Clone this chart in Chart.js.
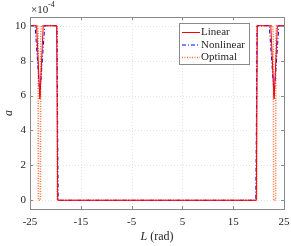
<!DOCTYPE html>
<html>
<head>
<meta charset="utf-8">
<script src="https://cdn.jsdelivr.net/npm/chart.js@4"></script>
<style>
  html, body { margin: 0; padding: 0; background: #fff; }
  #wrap { width: 291px; height: 246px; position: relative; }
</style>
</head>
<body>
<div id="wrap"><canvas id="chart"></canvas></div>
<script>
// values in units of 1e-4
const linearL = [-25, -23.7, -23.05, -22.4, -19.75, -19.55, 19.55, 19.75, 22.4, 23.05, 23.7, 25];
const linearA = [10, 10, 5.8, 10, 10, 0, 0, 10, 10, 5.8, 10, 10];

const nonlinearL = [-25, -24.0, -23.05, -22.1, -19.7, -19.45, 19.45, 19.7, 22.1, 23.05, 24.0, 25];
const nonlinearA = [10, 10, 6.0, 10, 10, 0, 0, 10, 10, 6.0, 10, 10];

const optimalL = [-25, -23.5, -23.4, -23.35, -22.95, -22.9, -22.8, -19.65, -19.65, 19.65, 19.65, 22.8, 22.9, 22.95, 23.35, 23.4, 23.5, 25];
const optimalA = [10, 10, 9.4, 0, 0, 9.4, 10, 10, 0, 0, 10, 10, 9.4, 0, 0, 9.4, 10, 10];

const xTicks = [-25, -15, -5, 5, 15, 25];
const yTicks = [0, 2, 4, 6, 8, 10];

const FONT = '"Liberation Serif", "Times New Roman", serif';
const TEXT = '#262626';
const AXIS = '#8a8a8a';

const toPoints = (xs, ys) => xs.map((x, i) => ({ x, y: ys[i] }));

const series = [
  { label: 'Linear', data: toPoints(linearL, linearA), color: '#ff0000', dash: [], width: 1 },
  { label: 'Nonlinear', data: toPoints(nonlinearL, nonlinearA), color: '#0000ff', dash: [4, 2, 1, 2], width: 1 },
  { label: 'Optimal', data: toPoints(optimalL, optimalA), color: '#ff6a33', dash: [1, 1.5], width: 1.5 },
];

const framePlugin = {
  id: 'frame',
  beforeDatasetsDraw(chart) {
    const { ctx, chartArea: a, scales: { x, y } } = chart;
    ctx.save();
    ctx.strokeStyle = '#dcdcdc';
    ctx.lineWidth = 0.8;
    ctx.setLineDash([1, 2]);
    xTicks.forEach(v => {
      const px = Math.round(x.getPixelForValue(v)) + 0.5;
      ctx.beginPath(); ctx.moveTo(px, a.top); ctx.lineTo(px, a.bottom); ctx.stroke();
    });
    yTicks.forEach(v => {
      const py = Math.round(y.getPixelForValue(v)) + 0.5;
      ctx.beginPath(); ctx.moveTo(a.left, py); ctx.lineTo(a.right, py); ctx.stroke();
    });
    ctx.restore();
  },
  afterDraw(chart) {
    const { ctx, chartArea: a, scales: { x, y } } = chart;
    ctx.save();
    // box
    ctx.strokeStyle = AXIS;
    ctx.lineWidth = 1;
    ctx.setLineDash([]);
    ctx.strokeRect(Math.round(a.left) + 0.5, Math.round(a.top) + 0.5,
      Math.round(a.right - a.left), Math.round(a.bottom - a.top));
    // inward ticks
    ctx.beginPath();
    xTicks.forEach(v => {
      const px = Math.round(x.getPixelForValue(v)) + 0.5;
      ctx.moveTo(px, a.bottom); ctx.lineTo(px, a.bottom - 3);
      ctx.moveTo(px, a.top); ctx.lineTo(px, a.top + 3);
    });
    yTicks.forEach(v => {
      const py = Math.round(y.getPixelForValue(v)) + 0.5;
      ctx.moveTo(a.left, py); ctx.lineTo(a.left + 3, py);
      ctx.moveTo(a.right, py); ctx.lineTo(a.right - 3, py);
    });
    ctx.stroke();

    // tick labels
    ctx.fillStyle = TEXT;
    ctx.font = '11px ' + FONT;
    ctx.textAlign = 'center';
    ctx.textBaseline = 'middle';
    xTicks.forEach(v => ctx.fillText(String(v), x.getPixelForValue(v), a.bottom + 13));
    ctx.textAlign = 'right';
    yTicks.forEach(v => ctx.fillText(String(v), a.left - 4, y.getPixelForValue(v)));

    // exponent
    ctx.textAlign = 'left';
    ctx.textBaseline = 'alphabetic';
    ctx.font = '11px ' + FONT;
    ctx.fillText('\u00d710', a.left + 1, a.top - 4);
    ctx.font = '8px ' + FONT;
    ctx.fillText('-4', a.left + 18, a.top - 10);

    // axis titles
    const cx = (a.left + a.right) / 2;
    ctx.textBaseline = 'middle';
    ctx.font = 'italic 12px ' + FONT;
    const lw = ctx.measureText('L ').width;
    ctx.font = '12px ' + FONT;
    const rw = ctx.measureText('(rad)').width;
    const sx = cx - (lw + rw) / 2;
    ctx.font = 'italic 12px ' + FONT;
    ctx.fillText('L', sx, a.bottom + 28);
    ctx.font = '12px ' + FONT;
    ctx.fillText('(rad)', sx + lw, a.bottom + 28);

    ctx.save();
    ctx.translate(9, (a.top + a.bottom) / 2);
    ctx.rotate(-Math.PI / 2);
    ctx.font = 'italic 12px ' + FONT;
    ctx.textAlign = 'center';
    ctx.fillText('a', 0, 0);
    ctx.restore();

    // legend
    const bx = 179.5, by = 23.5, bw = 70, bh = 41;
    ctx.fillStyle = '#fff';
    ctx.fillRect(bx, by, bw, bh);
    ctx.strokeStyle = AXIS;
    ctx.lineWidth = 1;
    ctx.strokeRect(bx, by, bw, bh);
    ctx.font = '11px ' + FONT;
    ctx.textAlign = 'left';
    ctx.textBaseline = 'middle';
    series.forEach((s, i) => {
      const ly = 32.5 + i * 12.5;
      ctx.strokeStyle = s.color;
      ctx.lineWidth = s.width;
      ctx.setLineDash(s.dash);
      ctx.beginPath(); ctx.moveTo(182, ly); ctx.lineTo(200, ly); ctx.stroke();
      ctx.setLineDash([]);
      ctx.fillStyle = TEXT;
      ctx.fillText(s.label, 201, ly);
    });
    ctx.restore();
  }
};

new Chart(document.getElementById('chart'), {
  type: 'line',
  data: {
    datasets: series.map(s => ({
      label: s.label,
      data: s.data,
      borderColor: s.color,
      borderWidth: s.width,
      borderDash: s.dash,
      pointRadius: 0,
      fill: false,
      tension: 0,
    })),
  },
  options: {
    responsive: true,
    maintainAspectRatio: false,
    animation: false,
    layout: { padding: { top: 17, right: 7, left: 0, bottom: 0 } },
    plugins: { legend: { display: false }, tooltip: { enabled: false } },
    scales: {
      x: {
        type: 'linear', min: -25, max: 25,
        grid: { display: false }, border: { display: false },
        ticks: { display: false },
        afterFit(scale) { scale.height = 37; },
      },
      y: {
        type: 'linear', min: -0.5, max: 10.5,
        grid: { display: false }, border: { display: false },
        ticks: { display: false },
        afterFit(scale) { scale.width = 30; },
      },
    },
  },
  plugins: [framePlugin],
});
</script>
</body>
</html>
